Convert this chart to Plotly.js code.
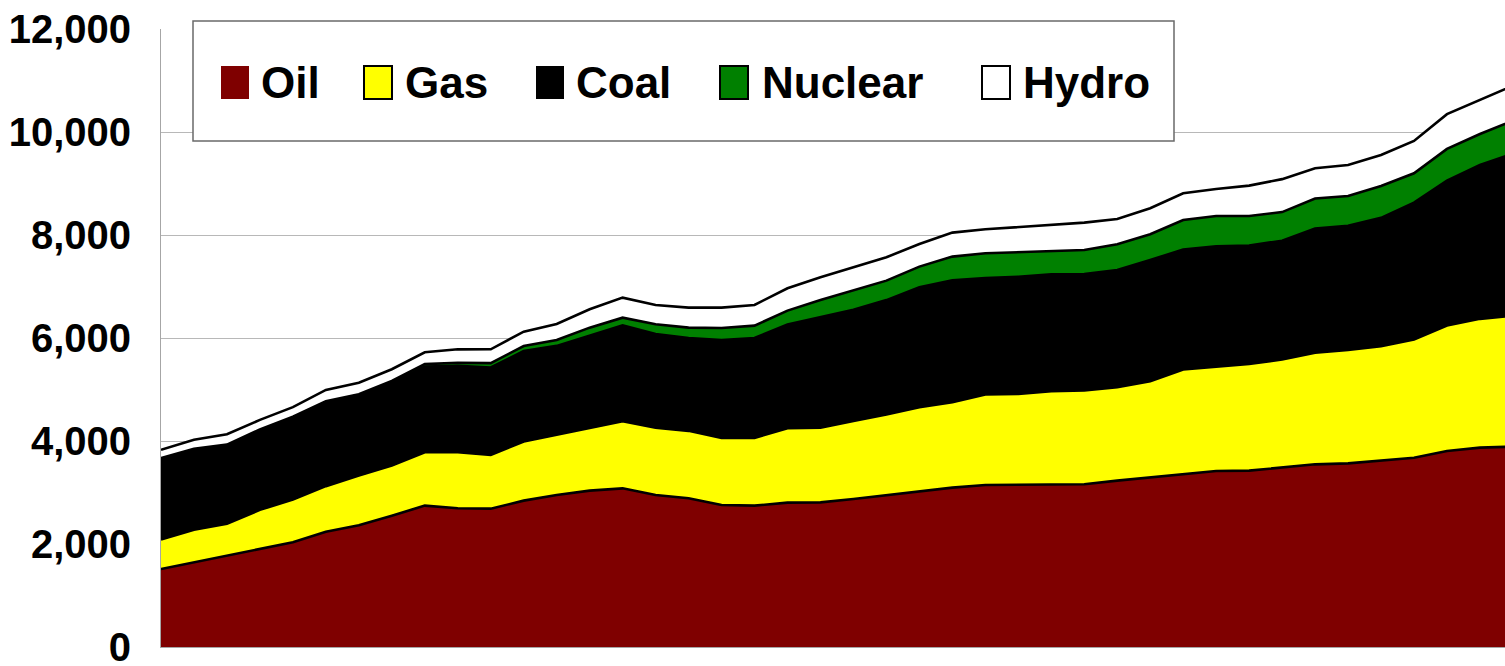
<!DOCTYPE html>
<html>
<head>
<meta charset="utf-8">
<script src="https://cdn.plot.ly/plotly-3.0.1.min.js"></script>
<style>
  html, body { margin: 0; padding: 0; background: #ffffff; }
  #chart { width: 1505px; height: 666px; }
</style>
</head>
<body>
<div id="chart"></div>
<script>
// ---- Data ----
const years = [1965,1966,1967,1968,1969,1970,1971,1972,1973,1974,1975,1976,1977,1978,1979,1980,1981,1982,1983,1984,1985,1986,1987,1988,1989,1990,1991,1992,1993,1994,1995,1996,1997,1998,1999,2000,2001,2002,2003,2004,2005,2006];

const oil = [1515,1645,1780,1917,2033,2240,2363,2550,2745,2693,2686,
             2842,2952,3036,3081,2952,2887,2758,2745,2803,2809,2874,2945,3016,
             3094,3146,3146,3159,3159,3230,3295,3360,3418,3424,3482,3547,3566,3618,3676,3806,3871,3890];

const gas = [572,630,611,746,830,883,966,974,1038,1090,1045,
             1147,1168,1213,1303,1304,1310,1303,1316,1446,1447,1517,1569,1641,
             1660,1757,1770,1809,1822,1816,1867,2028,2022,2074,2100,2165,2204,2224,2295,2437,2501,2542];

const coal = [1577,1568,1530,1550,1595,1630,1552,1610,1665,1675,1697,
              1757,1727,1802,1861,1820,1804,1899,1939,2015,2150,2159,2222,2329,
              2366,2262,2273,2269,2259,2273,2351,2332,2340,2297,2308,2413,2408,2491,2658,2813,2990,3147];

const nuclear = [6,8,9,12,14,18,26,34,45,60,85,
                 99,115,150,150,190,200,235,240,268,333,370,378,400,
                 460,480,475,460,470,501,501,572,590,575,555,585,580,620,570,615,600,640];

const hydro = [160,172,200,185,185,220,225,225,230,262,268,
               278,310,357,389,376,389,395,402,434,441,454,454,440,
               466,466,486,498,530,492,505,519,524,589,640,586,602,601,628,675,660,681];

const seriesNames = ["Oil", "Gas", "Coal", "Nuclear", "Hydro"];
const yTickVals = [0, 2000, 4000, 6000, 8000, 10000, 12000];

// ---- Styles ----
const fillColors = ["#7f0000", "#ffff00", "#000000", "#008000", "#ffffff"];
const W = 1505, H = 666;
const M = { l: 161, r: 0, t: 29, b: 19 };
const plotW = W - M.l - M.r, plotH = H - M.t - M.b;
const px2x = p => (p - M.l) / plotW;
const px2y = p => (H - M.b - p) / plotH;

const seriesValues = [oil, gas, coal, nuclear, hydro];
const traces = seriesValues.map((vals, i) => ({
  x: years,
  y: vals,
  name: seriesNames[i],
  type: "scatter",
  mode: "lines",
  stackgroup: "one",
  line: { color: "#000000", width: 2.6, shape: "linear" },
  fillcolor: fillColors[i],
  hoverinfo: "skip",
  showlegend: false
}));

// Custom legend (box, swatches, labels) in pixel layout positions
const legendBox = { x0: 193, x1: 1174, y0: 21, y1: 141 };
const swatchX = [221, 364, 536, 720, 982];
const swatchW = 28, swatchY0 = 66, swatchY1 = 99;
const labelX = [259, 403, 574, 760, 1021];
const labelY = 83;
const swatchBorder = [false, true, false, true, true];

const shapes = [{
  type: "rect", xref: "paper", yref: "paper", layer: "above",
  x0: px2x(legendBox.x0), x1: px2x(legendBox.x1),
  y0: px2y(legendBox.y1), y1: px2y(legendBox.y0),
  fillcolor: "#ffffff", line: { color: "#6a6a6a", width: 1.5 }
}];
const annotations = [];
seriesNames.forEach((nm, i) => {
  shapes.push({
    type: "rect", xref: "paper", yref: "paper", layer: "above",
    x0: px2x(swatchX[i]), x1: px2x(swatchX[i] + swatchW),
    y0: px2y(swatchY1), y1: px2y(swatchY0),
    fillcolor: fillColors[i],
    line: { color: "#000000", width: swatchBorder[i] ? 2 : 0 }
  });
  annotations.push({
    xref: "paper", yref: "paper",
    x: px2x(labelX[i]), y: px2y(labelY),
    xanchor: "left", yanchor: "middle",
    text: nm, showarrow: false,
    font: { family: "Liberation Sans, Arial, sans-serif", size: 44, weight: "bold", color: "#000000" }
  });
});

const layout = {
  width: W, height: H,
  margin: M,
  paper_bgcolor: "#ffffff",
  plot_bgcolor: "#ffffff",
  showlegend: false,
  xaxis: {
    range: [1965, 2005.76],
    showticklabels: false, showgrid: false, zeroline: false,
    showline: true, linecolor: "#a6a6a6", linewidth: 1,
    ticks: "", fixedrange: true
  },
  yaxis: {
    range: [0, 12000],
    tickvals: yTickVals,
    tickformat: ",d",
    showgrid: true, gridcolor: "#b8b8b8", gridwidth: 1,
    zeroline: false,
    showline: true, linecolor: "#a6a6a6", linewidth: 1,
    ticks: "", ticklabelstandoff: 21,
    ticklabeloverflow: "allow",
    tickfont: { family: "Liberation Sans, Arial, sans-serif", size: 40, weight: "bold", color: "#000000" },
    fixedrange: true
  },
  shapes: shapes,
  annotations: annotations
};

Plotly.newPlot("chart", traces, layout, { displayModeBar: false, staticPlot: true });
</script>
</body>
</html>
